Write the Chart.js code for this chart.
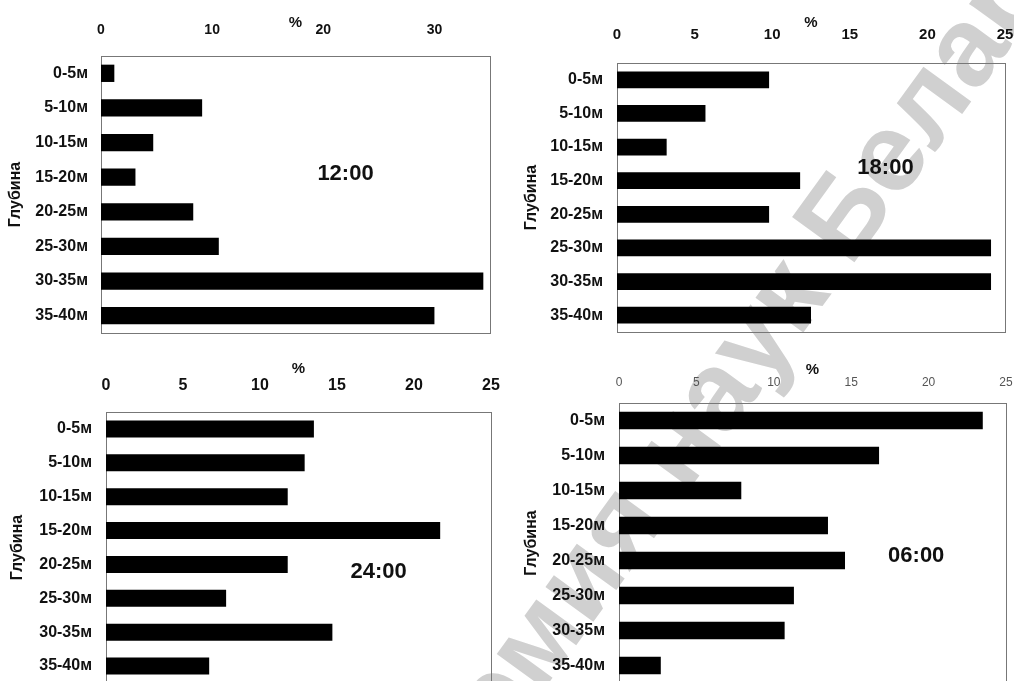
<!DOCTYPE html>
<html><head><meta charset="utf-8">
<script src="https://cdn.jsdelivr.net/npm/chart.js@4/dist/chart.umd.min.js"></script>
<style>
html,body{margin:0;padding:0;background:#fff;width:1014px;height:681px;overflow:hidden;position:relative}
canvas{position:absolute;z-index:1}
#wm{position:absolute;left:0;top:0;z-index:0}
</style></head><body>
<svg id="wm" width="1014" height="681">
  <g transform="translate(540,695) rotate(-54)" fill="#d0d0d0" font-family="'Liberation Sans', Arial, sans-serif" font-weight="bold" font-size="112">
    <text x="0" y="0" text-anchor="end">Акаде</text>
    <text x="0" y="0" text-anchor="start">мия наук Беларуси</text>
  </g>
</svg>
<canvas id="c1" width="507" height="340" style="left:0;top:0"></canvas>
<canvas id="c2" width="507" height="340" style="left:507px;top:0"></canvas>
<canvas id="c3" width="507" height="345" style="left:0;top:340px"></canvas>
<canvas id="c4" width="507" height="345" style="left:507px;top:340px"></canvas>
<script>
const categories = ['0-5м','5-10м','10-15м','15-20м','20-25м','25-30м','30-35м','35-40м'];
const values1200 = [1.2, 9.1, 4.7, 3.1, 8.3, 10.6, 34.4, 30.0];
const values1800 = [9.8, 5.7, 3.2, 11.8, 9.8, 24.1, 24.1, 12.5];
const values2400 = [13.5, 12.9, 11.8, 21.7, 11.8, 7.8, 14.7, 6.7];
const values0600 = [23.5, 16.8, 7.9, 13.5, 14.6, 11.3, 10.7, 2.7];
const ticks1200 = [0, 10, 20, 30];
const ticks25 = [0, 5, 10, 15, 20, 25];
const max1200 = 35;
const max25 = 25;
const timeLabels = ['12:00', '18:00', '24:00', '06:00'];
const yTitle = 'Глубина';
const xTitle = '%';

const FONT = "'Liberation Sans', Arial, sans-serif";
Chart.defaults.font.family = FONT;

const framePlugin = {
  id: 'frame',
  beforeDatasetsDraw(chart) {
    const a = chart.chartArea, ctx = chart.ctx;
    ctx.save();
    ctx.strokeStyle = '#777';
    ctx.lineWidth = 1;
    ctx.strokeRect(Math.round(a.left) + 0.5, Math.round(a.top) + 0.5,
                   Math.round(a.right - a.left), Math.round(a.bottom - a.top));
    ctx.restore();
  }
};
const timePlugin = {
  id: 'timeLabel',
  afterDatasetsDraw(chart, args, opts) {
    const ctx = chart.ctx;
    const x = chart.scales.x.getPixelForValue(opts.x);
    const y = chart.scales.y.getPixelForValue(opts.y);
    ctx.save();
    ctx.font = 'bold 22px ' + FONT;
    ctx.fillStyle = '#111';
    ctx.textAlign = 'center';
    ctx.textBaseline = 'middle';
    ctx.fillText(opts.text, x, y);
    ctx.restore();
  }
};

function makeChart(id, values, tickVals, max, time, L) {
  return new Chart(document.getElementById(id), {
    type: 'bar',
    data: {
      labels: categories,
      datasets: [{ data: values, backgroundColor: '#000', borderWidth: 0,
                   barPercentage: 0.5, categoryPercentage: 1 }]
    },
    options: {
      indexAxis: 'y', responsive: false, animation: false, devicePixelRatio: 1,
      layout: { padding: { left: 0, top: 0, right: L.right, bottom: L.bottom } },
      plugins: {
        legend: { display: false }, tooltip: { enabled: false },
        timeLabel: { text: time, x: L.tx, y: L.ty }
      },
      scales: {
        x: {
          type: 'linear', position: 'top', min: 0, max: max,
          grid: { display: false, drawTicks: false }, border: { display: false },
          afterBuildTicks: s => { s.ticks = tickVals.map(v => ({ value: v })); },
          afterFit: s => { s.height = L.top; s.paddingLeft = 0; s.paddingRight = 0; },
          ticks: { padding: L.xtp, color: L.xtc, font: L.xtf, maxRotation: 0, autoSkip: false },
          title: { display: true, text: xTitle, color: '#111',
                   font: { size: 15, weight: 'bold' }, padding: { top: L.pctp, bottom: 0 } }
        },
        y: {
          type: 'category',
          grid: { display: false, drawTicks: false }, border: { display: false },
          afterFit: s => { s.width = L.left; s.paddingTop = 0; s.paddingBottom = 0; },
          ticks: { padding: L.ytp, color: '#111', font: { size: 16, weight: 'bold' } },
          title: { display: true, text: yTitle, color: '#111',
                   font: { size: 16, weight: 'bold' }, padding: { top: L.ttp, bottom: 0 } }
        }
      }
    },
    plugins: [framePlugin, timePlugin]
  });
}

makeChart('c1', values1200, ticks1200, max1200, timeLabels[0],
  { left: 101, top: 56, right: 17, bottom: 7, xtp: 17, xtc: '#111', xtf: { size: 14, weight: 'bold' },
    pctp: 14, ytp: 13, ttp: 6, tx: 22, ty: 2.9 });
makeChart('c2', values1800, ticks25, max25, timeLabels[1],
  { left: 110, top: 63, right: 9, bottom: 8, xtp: 19, xtc: '#111', xtf: { size: 15, weight: 'bold' },
    pctp: 14, ytp: 14, ttp: 15, tx: 17.3, ty: 2.63 });
makeChart('c3', values2400, ticks25, max25, timeLabels[2],
  { left: 106, top: 72, right: 16, bottom: 2, xtp: 17, xtc: '#111', xtf: { size: 16, weight: 'bold' },
    pctp: 20, ytp: 14, ttp: 8, tx: 17.7, ty: 4.22 });
makeChart('c4', values0600, ticks25, max25, timeLabels[3],
  { left: 112, top: 63, right: 8, bottom: 2, xtp: 13, xtc: '#555', xtf: { size: 12, weight: 'normal' },
    pctp: 21, ytp: 14, ttp: 15, tx: 19.2, ty: 3.86 });
</script>
</body></html>
